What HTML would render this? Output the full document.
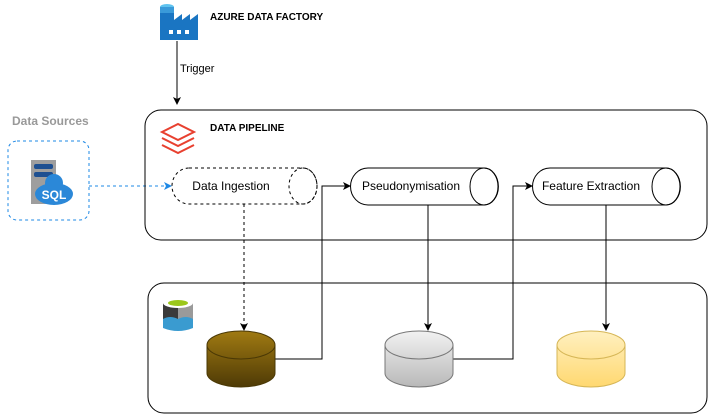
<!DOCTYPE html>
<html><head><meta charset="utf-8"><style>
body{margin:0;background:#fff;}
svg{display:block;font-family:"Liberation Sans",Helvetica,Arial,sans-serif;}
</style></head><body>
<svg width="709" height="414" viewBox="0 0 709 414" xmlns="http://www.w3.org/2000/svg">
<defs>
<marker id="a" markerWidth="8" markerHeight="8" refX="7" refY="4" orient="auto" markerUnits="userSpaceOnUse"><path d="M0,0 L8,4 L0,8 L2,4 Z" fill="#000"/></marker>
<marker id="b" markerWidth="8" markerHeight="8" refX="7" refY="4" orient="auto" markerUnits="userSpaceOnUse"><path d="M0,0 L8,4 L0,8 L2,4 Z" fill="#1e88e5"/></marker>
<linearGradient id="gb" x1="0" y1="0" x2="0" y2="1"><stop offset="0" stop-color="#a07a12"/><stop offset="1" stop-color="#4e3a06"/></linearGradient>
<linearGradient id="gg" x1="0" y1="0" x2="0" y2="1"><stop offset="0" stop-color="#f2f2f2"/><stop offset="1" stop-color="#b8b8b8"/></linearGradient>
<linearGradient id="gy" x1="0" y1="0" x2="0" y2="1"><stop offset="0" stop-color="#fff0c0"/><stop offset="1" stop-color="#ffd870"/></linearGradient>
</defs>

<!-- Azure Data Factory icon -->
<path d="M160,10 L160,40 L198,40 L198,14 L190,20 L190,14 L182,20 L182,14 L174,20 L174,10 Z" fill="#1a75c2"/>
<ellipse cx="167" cy="7" rx="7" ry="3" fill="#5fc3ef"/>
<rect x="160" y="7" width="14" height="6" fill="#3a9ad9"/>
<rect x="169" y="30" width="4" height="4" fill="#fff"/><rect x="177" y="30" width="4" height="4" fill="#fff"/><rect x="185" y="30" width="4" height="4" fill="#fff"/>
<text x="210" y="20" font-size="10" font-weight="bold">AZURE DATA FACTORY</text>
<line x1="177" y1="41" x2="177" y2="104" stroke="#000" marker-end="url(#a)"/>
<text x="180" y="72" font-size="11">Trigger</text>

<!-- Data sources -->
<text x="12" y="125" font-size="12" font-weight="bold" fill="#999">Data Sources</text>
<rect x="8" y="141" width="81" height="79" rx="9" fill="none" stroke="#1e88e5" stroke-dasharray="3,3"/>
<rect x="31" y="160" width="25" height="44" fill="#9e9e9e"/>
<rect x="34" y="164" width="19" height="5" rx="2" fill="#1d4f91"/>
<rect x="34" y="172" width="19" height="5" rx="2" fill="#1d4f91"/>
<ellipse cx="54" cy="194" rx="19" ry="11" fill="#2b88d8"/>
<circle cx="54" cy="183" r="9" fill="#2b88d8"/>
<text x="54" y="199" font-size="12" font-weight="bold" fill="#fff" text-anchor="middle">SQL</text>
<line x1="89" y1="186" x2="171" y2="186" stroke="#1e88e5" stroke-dasharray="3,3" marker-end="url(#b)"/>

<!-- Pipeline container -->
<rect x="145" y="110" width="562" height="130" rx="16" fill="none" stroke="#000"/>
<g fill="none" stroke="#e8402f" stroke-width="2">
<path d="M162,132 L178,124 L194,132 L178,140 Z"/>
<path d="M162,138 L178,146 L194,138"/>
<path d="M162,145 L178,153 L194,145"/>
</g>
<text x="210" y="131" font-size="10" font-weight="bold">DATA PIPELINE</text>

<!-- Horizontal cylinders -->
<path d="M189,168 H303 A14,18 0 0 1 303,204 H189 A17,18 0 0 1 189,168 Z" fill="#fff" stroke="#000" stroke-dasharray="3,3"/>
<ellipse cx="303" cy="186" rx="14" ry="18" fill="none" stroke="#000" stroke-dasharray="3,3"/>
<text x="231" y="190" font-size="12" text-anchor="middle">Data Ingestion</text>

<path d="M368,168 H484 A14,18 0 0 1 484,205 H368 A17,18 0 0 1 368,168 Z" fill="#fff" stroke="#000"/>
<ellipse cx="484" cy="186.5" rx="14" ry="18.5" fill="none" stroke="#000"/>
<text x="411" y="190" font-size="12" text-anchor="middle">Pseudonymisation</text>

<path d="M550,168 H666 A14,18 0 0 1 666,205 H550 A17,18 0 0 1 550,168 Z" fill="#fff" stroke="#000"/>
<ellipse cx="666" cy="186.5" rx="14" ry="18.5" fill="none" stroke="#000"/>
<text x="591" y="190" font-size="12" text-anchor="middle">Feature Extraction</text>

<!-- Storage container -->
<rect x="148" y="283" width="559" height="130" rx="16" fill="none" stroke="#000"/>
<path d="M163,303 V328 Q178,334 193,328 V303 Z" fill="#3a9bd0"/>
<path d="M163,303 V319 Q170,315 178,319 V303 Z" fill="#3a3a3a"/>
<path d="M178,303 V319 Q186,315 193,319 V303 Z" fill="#9a9a9a"/>
<ellipse cx="178" cy="303" rx="15" ry="5" fill="#fff"/>
<ellipse cx="178" cy="303" rx="10" ry="3" fill="#9bc71b"/>

<!-- Vertical connectors -->
<line x1="244" y1="204" x2="244" y2="330" stroke="#000" stroke-dasharray="3,3" marker-end="url(#a)"/>
<line x1="428" y1="205" x2="428" y2="330" stroke="#000" marker-end="url(#a)"/>
<line x1="606" y1="205" x2="606" y2="330" stroke="#000" marker-end="url(#a)"/>
<polyline points="275,359 322,359 322,186 350,186" fill="none" stroke="#000" marker-end="url(#a)"/>
<polyline points="453,359 513,359 513,186 532,186" fill="none" stroke="#000" marker-end="url(#a)"/>

<!-- DB cylinders -->
<path d="M207,345 A34,14 0 0 1 275,345 V373 A34,14 0 0 1 207,373 Z" fill="url(#gb)" stroke="#4a3805"/>
<path d="M207,345 A34,14 0 0 0 275,345" fill="none" stroke="#4a3805"/>
<path d="M385,345 A34,14 0 0 1 453,345 V373 A34,14 0 0 1 385,373 Z" fill="url(#gg)" stroke="#777"/>
<path d="M385,345 A34,14 0 0 0 453,345" fill="none" stroke="#777"/>
<path d="M557,345 A34,14 0 0 1 625,345 V373 A34,14 0 0 1 557,373 Z" fill="url(#gy)" stroke="#d6b656"/>
<path d="M557,345 A34,14 0 0 0 625,345" fill="none" stroke="#d6b656"/>
</svg>
</body></html>
